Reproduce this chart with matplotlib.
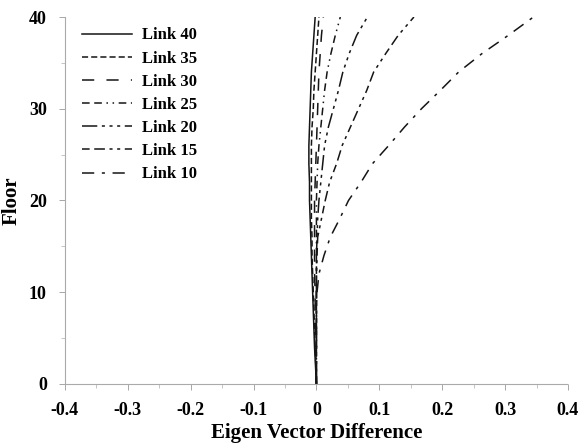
import numpy as np
import matplotlib.pyplot as plt

floors = [0, 4, 8, 10, 12, 14, 16, 18, 20, 22, 24, 26, 28, 30, 32, 34, 36, 38, 40]

link40 = [0, -0.003, -0.005, -0.006, -0.007, -0.008, -0.009, -0.010, -0.011, -0.011, -0.012, -0.012, -0.011, -0.010, -0.009, -0.008, -0.006, -0.004, -0.002]
link35 = [0, -0.002, -0.004, -0.005, -0.006, -0.007, -0.007, -0.008, -0.008, -0.008, -0.008, -0.008, -0.007, -0.005, -0.004, -0.002, 0.000, 0.002, 0.004]
link30 = [0, -0.001, -0.002, -0.002, -0.003, -0.003, -0.003, -0.003, -0.003, -0.002, -0.001, 0.000, 0.001, 0.002, 0.003, 0.004, 0.006, 0.008, 0.011]
link25 = [0, 0, 0, 0, 0, 0, 0, 0, 0.000, 0.001, 0.002, 0.004, 0.007, 0.010, 0.013, 0.017, 0.023, 0.030, 0.038]
link20 = [0, 0, 0, 0, 0, 0, 0.001, 0.002, 0.004, 0.007, 0.010, 0.013, 0.019, 0.027, 0.035, 0.042, 0.052, 0.064, 0.081]
link15 = [0, 0, 0, 0, 0.000, 0.001, 0.002, 0.008, 0.014, 0.021, 0.032, 0.041, 0.054, 0.067, 0.080, 0.091, 0.110, 0.130, 0.155]
link10 = [0, 0, 0, 0.001, 0.004, 0.012, 0.022, 0.037, 0.051, 0.071, 0.089, 0.115, 0.140, 0.167, 0.197, 0.226, 0.263, 0.305, 0.345]

labels = ["Link 40", "Link 35", "Link 30", "Link 25", "Link 20", "Link 15", "Link 10"]
series = [link40, link35, link30, link25, link20, link15, link10]
dashes = [
    None,
    (4, 2),
    (8, 8),
    (5, 3, 5, 3, 1, 3, 1, 3),
    (10, 3, 2, 3, 2, 3, 2, 3),
    (5, 3, 7, 3, 2, 3, 2, 3),
    (8, 5, 2, 5),
]

plt.rcParams['font.family'] = ['Liberation Serif', 'DejaVu Serif']
plt.rcParams['font.weight'] = 'bold'

fig = plt.figure(figsize=(5.79, 4.48), dpi=100)
ax = fig.add_axes([0.112, 0.143, 0.869, 0.819])

for lab, vals, d in zip(labels, series, dashes):
    line, = ax.plot(vals, floors, color='#151515', lw=1.1, label=lab)
    if d is not None:
        line.set_dashes(d)

ax.set_xlim(-0.4, 0.4)
ax.set_ylim(0, 40)
ax.set_xticks(np.arange(-0.4, 0.41, 0.1))
ax.set_xticklabels(["-0.4", "-0.3", "-0.2", "-0.1", "0", "0.1", "0.2", "0.3", "0.4"])
ax.set_yticks([0, 10, 20, 30, 40])
ax.set_xticks(np.arange(-0.35, 0.4, 0.1), minor=True)
ax.set_yticks([5, 15, 25, 35], minor=True)

for s in ['top', 'right']:
    ax.spines[s].set_visible(False)
for s in ['left', 'bottom']:
    ax.spines[s].set_color('#aaaaaa')
    ax.spines[s].set_linestyle((0, (2, 1)))
    ax.spines[s].set_linewidth(0.8)

ax.tick_params(which='major', length=4, width=0.6, color='#999999', labelsize=13, pad=9)
ax.tick_params(which='minor', length=3, width=0.6, color='#bbbbbb')
for t in ax.get_xticklabels() + ax.get_yticklabels():
    t.set_fontweight('bold')

ax.set_xlabel("Eigen Vector Difference", fontsize=15, fontweight='bold', labelpad=3)
ax.set_ylabel("Floor", fontsize=15, fontweight='bold', labelpad=5)

leg = ax.legend(loc='upper left', frameon=False, fontsize=12, handlelength=3.0,
                handletextpad=0.6, labelspacing=0.43, borderaxespad=0.0,
                bbox_to_anchor=(0.02, 0.99))
for t in leg.get_texts():
    t.set_fontweight('bold')

fig.savefig("out.png", dpi=100)
